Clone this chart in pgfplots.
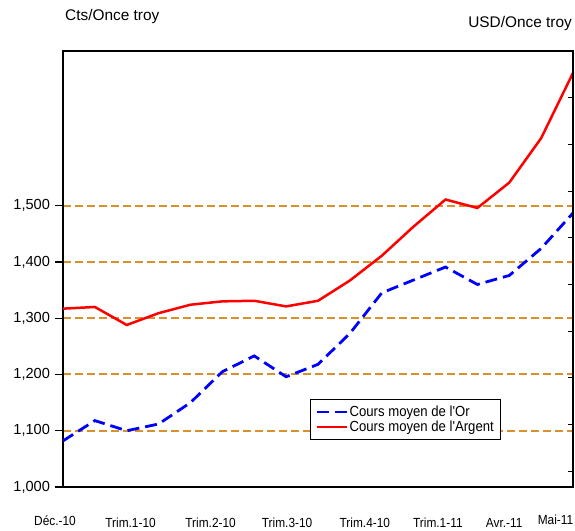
\documentclass[border=0pt]{standalone}
\usepackage{pgfplots}
\pgfplotsset{compat=1.18}
\usepackage{fontspec}
\setmainfont{Liberation Sans}
\newfontfamily\cond[FakeStretch=0.9]{Liberation Sans}
\definecolor{gridor}{RGB}{218,145,45}
\begin{document}
\begin{tikzpicture}
\begin{axis}[
 name=ax,
 scale only axis, width=510pt, height=436pt,
 xmin=0, xmax=16, ymin=1000, ymax=1775,
 xtick=\empty,
 ytick={1000,1100,...,1500},
 ytick pos=left,
 tick align=outside,
 major tick length=7.5pt,
 tick style={black, line width=1.3pt},
 yticklabel style={font=\fontsize{14.6}{15}\selectfont, xshift=-2pt, /pgf/number format/1000 sep={,}, /pgf/number format/assume math mode=true},
 ymajorgrids,
 grid style={gridor, dash pattern=on 8pt off 4pt, line width=2pt},
 axis line style={black, line width=1.6pt},
 clip=false,
 legend cell align=left,
 legend style={at={(0.484,0.202)}, anchor=north west, draw=black, line width=1pt,
   font=\cond\fontsize{14.6}{14.8}\selectfont, row sep=0pt, inner xsep=5pt, inner ysep=5pt,
   nodes={inner sep=1.5pt}},
 legend image code/.code={\draw[#1] (0pt,0pt) -- (30pt,0pt);},
]
\addplot[blue, line width=2.8pt, dash pattern=on 12pt off 6pt] coordinates {
(0,1082)(1,1118)(2,1100)(3,1112)(4,1150)(5,1205)(6,1233)(7,1196)(8,1218)(9,1273)(10,1345)(11,1368)(12,1391)(13,1360)(14,1376)(15,1424)(16,1487)};
\addlegendentry{Cours moyen de l'Or}
\addplot[red, line width=2.5pt] coordinates {
(0,1317)(1,1320)(2,1288)(3,1309)(4,1324)(5,1330)(6,1331)(7,1321)(8,1331)(9,1367)(10,1411)(11,1463)(12,1511)(13,1496)(14,1541)(15,1620)(16,1736)};
\addlegendentry{Cours moyen de l'Argent}
\begin{scope}[every node/.style={inner sep=0pt, font=\cond\fontsize{13.2}{14}\selectfont}]
\node at (axis cs:-0.25,1000) [yshift=-34pt] {Déc.-10};
\node at (axis cs:2.12,1000) [yshift=-35.5pt] {Trim.1-10};
\node at (axis cs:4.63,1000) [yshift=-35.5pt] {Trim.2-10};
\node at (axis cs:7.03,1000) [yshift=-35.5pt] {Trim.3-10};
\node at (axis cs:9.47,1000) [yshift=-35.5pt] {Trim.4-10};
\node at (axis cs:11.76,1000) [yshift=-35.5pt] {Trim.1-11};
\node at (axis cs:13.84,1000) [yshift=-35.5pt] {Avr.-11};
\node at (axis cs:15.45,1000) [yshift=-33pt] {Mai-11};
\end{scope}
\end{axis}
\begin{axis}[
 scale only axis, width=510pt, height=436pt,
 xmin=0, xmax=16, ymin=1000, ymax=1775,
 axis x line=none, axis y line*=right,
 ytick={1028,1111,1194,1277,1360,1443,1526,1609,1692,1775},
 yticklabels={},
 tick align=inside, major tick length=5pt,
 tick style={black, line width=1pt},
 axis line style={black, line width=1.6pt, -},
]
\addplot[draw=none] coordinates {(0,1000)};
\end{axis}
\draw[black, line width=1.6pt] (ax.north west) -- (ax.north east);
\node[anchor=west, font=\fontsize{15.4}{16}\selectfont, inner sep=0pt] at ([xshift=2pt,yshift=34pt]ax.north west) {Cts/Once troy};
\node[anchor=east, font=\fontsize{15.4}{16}\selectfont, inner sep=0pt] at ([xshift=-1pt,yshift=27pt]ax.north east) {USD/Once troy};
\pgfresetboundingbox
\path[use as bounding box] ([xshift=-63pt,yshift=-43pt]ax.south west) rectangle ([xshift=2pt,yshift=51pt]ax.north east);
\end{tikzpicture}
\end{document}
